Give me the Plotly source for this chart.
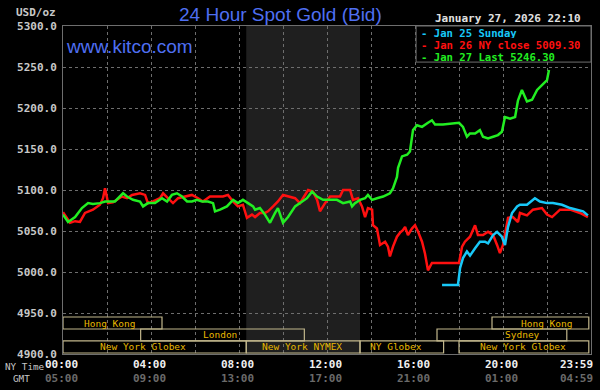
import plotly.graph_objects as go

# ---------------- data (hours after NY midnight, USD/oz) ----------------
red_t = [0.00, 0.32, 0.55, 0.77, 1.00, 1.36, 1.68, 1.82, 1.91, 2.05, 2.27, 2.68, 2.91, 3.14, 3.50,
         3.73, 3.86, 4.09, 4.41, 4.55, 4.77, 5.00, 5.23, 5.55, 5.86, 6.14, 6.36, 6.68, 7.00, 7.27,
         7.50, 7.73, 7.95, 8.18, 8.36, 8.59, 8.73, 8.95, 9.18, 9.32, 9.55, 9.77, 10.00, 10.32, 10.55,
         10.77, 11.00, 11.14, 11.36, 11.55, 11.68, 11.91, 12.14, 12.36, 12.59, 12.73, 13.05, 13.18,
         13.41, 13.59, 13.73, 13.86, 14.05, 14.09, 14.27, 14.41, 14.64, 14.77, 14.86, 15.00, 15.18,
         15.32, 15.45, 15.55, 15.68, 15.86, 16.00, 16.14, 16.32, 16.45, 16.59, 16.77, 17.00, 18.00,
         18.14, 18.27, 18.50, 18.73, 18.86, 19.09, 19.32, 19.55, 19.73, 19.86, 20.00, 20.23, 20.45,
         20.68, 20.77, 21.09, 21.36, 21.77, 22.00, 22.23, 22.59, 23.05, 23.50, 23.86]
red_v = [5073, 5060, 5062, 5061, 5072, 5076, 5082, 5090, 5102, 5084, 5085, 5092, 5090, 5094, 5096,
         5094, 5084, 5086, 5090, 5096, 5090, 5084, 5090, 5092, 5094, 5090, 5086, 5092, 5092, 5092,
         5094, 5086, 5080, 5082, 5066, 5070, 5067, 5072, 5072, 5074, 5080, 5086, 5094, 5092, 5090,
         5084, 5094, 5100, 5098, 5088, 5074, 5084, 5092, 5092, 5092, 5100, 5100, 5088,
         5090, 5080, 5067, 5078, 5076, 5057, 5053, 5033, 5037, 5031, 5019, 5031, 5043,
         5048, 5051, 5055, 5045, 5053, 5057, 5049, 5037, 5023, 5002, 5011, 5011, 5011,
         5031, 5037, 5043, 5057, 5045, 5045, 5049, 5045, 5033, 5023, 5033, 5066, 5067,
         5061, 5072, 5069, 5076, 5078, 5070, 5067, 5076, 5076, 5072, 5067]

green_t = [0.00, 0.23, 0.55, 0.86, 1.14, 1.36, 1.68, 1.91, 2.14, 2.36, 2.73, 2.91, 3.18, 3.50, 3.64,
           3.86, 4.18, 4.50, 4.73, 4.95, 5.18, 5.41, 5.64, 5.86, 6.09, 6.32, 6.59, 6.82, 6.91, 7.14,
           7.45, 7.73, 7.95, 8.18, 8.41, 8.64, 8.73, 8.95, 9.18, 9.41, 9.64, 9.77, 10.00, 10.23, 10.55,
           10.77, 11.09, 11.32, 11.55, 11.82, 12.14, 12.45, 12.73, 13.05, 13.14, 13.27, 13.50, 13.73,
           13.86, 14.05, 14.27, 14.55, 14.86, 15.00, 15.18, 15.23, 15.41, 15.64, 15.77, 15.86, 15.91,
           16.09, 16.32, 16.59, 16.77, 16.91, 17.27, 18.00, 18.18, 18.36, 18.50, 18.73, 18.95, 19.09,
           19.32, 19.55, 19.77, 19.95, 20.09, 20.32, 20.55, 20.68, 20.77, 20.86, 21.09, 21.32, 21.55,
           21.77, 22.00, 22.09]
green_v = [5070, 5061, 5067, 5078, 5084, 5083, 5084, 5086, 5086, 5086, 5096, 5092, 5088, 5086, 5080,
           5084, 5084, 5090, 5086, 5094, 5096, 5092, 5086, 5086, 5088, 5086, 5086, 5084, 5074, 5076,
           5080, 5088, 5084, 5088, 5084, 5080, 5076, 5078, 5070, 5060, 5072, 5078, 5060, 5067, 5080,
           5084, 5090, 5098, 5092, 5088, 5088, 5088, 5084, 5086, 5080, 5084, 5088, 5090,
           5094, 5088, 5090, 5092, 5096, 5102, 5116, 5127, 5141, 5143, 5147, 5161, 5173,
           5179, 5177, 5182, 5185, 5180, 5180, 5182, 5177, 5165, 5169, 5169, 5173, 5165,
           5163, 5165, 5167, 5171, 5189, 5187, 5189, 5209, 5217, 5222, 5208, 5210, 5222,
           5228, 5234, 5246.3]

cyan_t = [17.23, 17.95, 18.05, 18.18, 18.36, 18.50, 18.73, 18.95, 19.18, 19.32, 19.55, 19.73, 19.95,
          20.09, 20.23, 20.41, 20.64, 20.77, 21.09, 21.45, 21.68, 22.00, 22.27, 22.68, 23.05, 23.36,
          23.64, 23.86]
cyan_v = [4984, 4984, 5005, 5017, 5025, 5020, 5029, 5037, 5037, 5035, 5045, 5049, 5043,
          5033, 5055, 5072, 5080, 5082, 5082, 5090, 5086, 5084, 5084, 5082, 5078, 5076,
          5074, 5069]

legend_labels = ["Jan 25 Sunday", "Jan 26 NY close 5009.30", "Jan 27 Last 5246.30"]
y_ticks = [4900, 4950, 5000, 5050, 5100, 5150, 5200, 5250, 5300]
x_tick_pos = [0, 4, 8, 12, 16, 20, 24]
ny_labels = ["00:00", "04:00", "08:00", "12:00", "16:00", "20:00", "23:59"]
gmt_labels = ["05:00", "09:00", "13:00", "17:00", "21:00", "01:00", "04:59"]

# sessions: name, row (1 top .. 3 bottom), start hour, end hour, label hour
sessions = [
    ("Hong Kong", 1, 0.0, 4.5, 2.11),
    ("London", 2, 3.53, 10.97, 7.14),
    ("New York Globex", 3, 0.0, 8.33, 3.64),
    ("New York NYMEX", 3, 8.33, 13.5, 10.86),
    ("NY Globex", 3, 13.5, 17.3, 15.14),
    ("New York Globex", 3, 18.0, 23.9, 20.9),
    ("Hong Kong", 1, 19.5, 23.9, 21.98),
    ("Sydney", 2, 17.0, 22.9, 20.9),
]
nymex_open, nymex_close = 8.33, 13.5
date_text = "January 27, 2026 22:10"

# ---------------- styling ----------------
MONO = "DejaVu Sans Mono"
C_RED, C_GREEN, C_CYAN = "#ff1010", "#22ee22", "#18c8f8"
BLUE = "#4f6ff2"
GRID = "#6e6e6e"

fig = go.Figure()
for t, v, c in [(red_t, red_v, C_RED), (cyan_t, cyan_v, C_CYAN), (green_t, green_v, C_GREEN)]:
    fig.add_trace(go.Scatter(x=t, y=v, mode="lines", line=dict(color=c, width=2.5),
                             showlegend=False, hoverinfo="skip"))

shapes = []
# NYMEX shaded band
shapes.append(dict(type="rect", xref="x", yref="y", x0=nymex_open, x1=nymex_close,
                   y0=4900, y1=5300, fillcolor="#1f1f1f", line=dict(width=0), layer="below"))
# session boxes
row_bounds = {1: (4930.5, 4945.1), 2: (4915.9, 4930.5), 3: (4901.2, 4915.9)}
annotations = []
for name, row, s, e, lx in sessions:
    y0, y1 = row_bounds[row]
    shapes.append(dict(type="rect", xref="x", yref="y", x0=s, x1=e, y0=y0, y1=y1,
                       line=dict(color="#c2b78c", width=1.2), fillcolor="rgba(0,0,0,0)",
                       layer="between"))
    annotations.append(dict(x=lx, y=(y0 + y1) / 2, xref="x", yref="y", text=name,
                            showarrow=False, font=dict(family=MONO, size=9.5, color="#e8b800"),
                            xanchor="center", yanchor="middle", height=11))
# legend box
shapes.append(dict(type="rect", xref="x", yref="y", x0=16.05, x1=24, y0=5256, y1=5300,
                   fillcolor="black", line=dict(color=GRID, width=1), layer="between"))

for i, (lab, c) in enumerate(zip(legend_labels, [C_CYAN, C_RED, C_GREEN])):
    annotations.append(dict(x=16.05, y=1, xref="x", yref="paper", xshift=4, yshift=-6.5 - 12 * i,
                            text="- " + lab, showarrow=False, xanchor="left", yanchor="middle",
                            height=11, borderpad=0,
                            font=dict(family=MONO, size=10.6, color=c, weight="bold")))

# x tick labels (two rows)
for p, ny, gmt in zip(x_tick_pos, ny_labels, gmt_labels):
    anchor = "right" if p == 24 else "center"
    xs = 4 if p == 24 else -1.5
    annotations.append(dict(x=p, y=0, xref="x", yref="paper", text=ny, showarrow=False,
                            xanchor=anchor, yanchor="middle", yshift=-10, xshift=xs, height=13,
                            font=dict(family=MONO, size=11, color="#f0f0f0", weight="bold")))
    annotations.append(dict(x=p, y=0, xref="x", yref="paper", text=gmt, showarrow=False,
                            xanchor=anchor, yanchor="middle", yshift=-24, xshift=xs, height=13,
                            font=dict(family=MONO, size=11, color="#6a6a6a", weight="bold")))

annotations += [
    dict(x=0, y=0, xref="paper", yref="paper", xshift=-60, yshift=-12, text="NY Time",
         showarrow=False, xanchor="left", yanchor="middle", height=12,
         font=dict(family=MONO, size=9.3, color="#c8c8c8")),
    dict(x=0, y=0, xref="paper", yref="paper", xshift=-52, yshift=-24, text="GMT",
         showarrow=False, xanchor="left", yanchor="middle", height=12,
         font=dict(family=MONO, size=9.3, color="#c8c8c8")),
    dict(x=0, y=1, xref="paper", yref="paper", xshift=-5, yshift=13.5, text="USD/oz",
         showarrow=False, xanchor="right", yanchor="middle",
         font=dict(family=MONO, size=11, color="#c8c8c8", weight="bold")),
    dict(x=0, y=1, xref="paper", yref="paper", xshift=1, yshift=-20, text="www.kitco.com",
         showarrow=False, xanchor="left", yanchor="middle",
         font=dict(family="Liberation Sans", size=19, color=BLUE)),
    dict(x=0.411, y=1, xref="paper", yref="paper", yshift=12, text="24 Hour Spot Gold (Bid)",
         showarrow=False, xanchor="center", yanchor="middle",
         font=dict(family="Liberation Sans", size=19, color=BLUE)),
    dict(x=16.05, y=1, xref="x", yref="paper", xshift=16.5, yshift=8, text=date_text,
         showarrow=False, xanchor="left", yanchor="middle",
         font=dict(family=MONO, size=11, color="#e0e0e0", weight="bold")),
]

fig.update_layout(
    width=600, height=390,
    margin=dict(l=63, r=9, t=26, b=36),
    paper_bgcolor="black", plot_bgcolor="black",
    shapes=shapes, annotations=annotations, showlegend=False,
    xaxis=dict(range=[0, 24], dtick=2, tick0=0, showticklabels=False, ticks="",
               showgrid=True, gridcolor=GRID, griddash="dot", gridwidth=1, zeroline=False,
               showline=True, linecolor=GRID, mirror=True, fixedrange=True),
    yaxis=dict(range=[4900, 5300], tickvals=y_ticks, ticktext=[f"{v:.1f}" for v in y_ticks],
               ticks="", ticklabelstandoff=3, showgrid=True, gridcolor=GRID, griddash="dot",
               gridwidth=1, zeroline=False, showline=True, linecolor=GRID, mirror=True,
               tickfont=dict(family=MONO, size=11, color="#c8c8c8", weight="bold"),
               fixedrange=True),
)

fig.write_html("out.html", config={"displayModeBar": False},
               post_script="document.body.style.margin='0';document.body.style.background='black';")
